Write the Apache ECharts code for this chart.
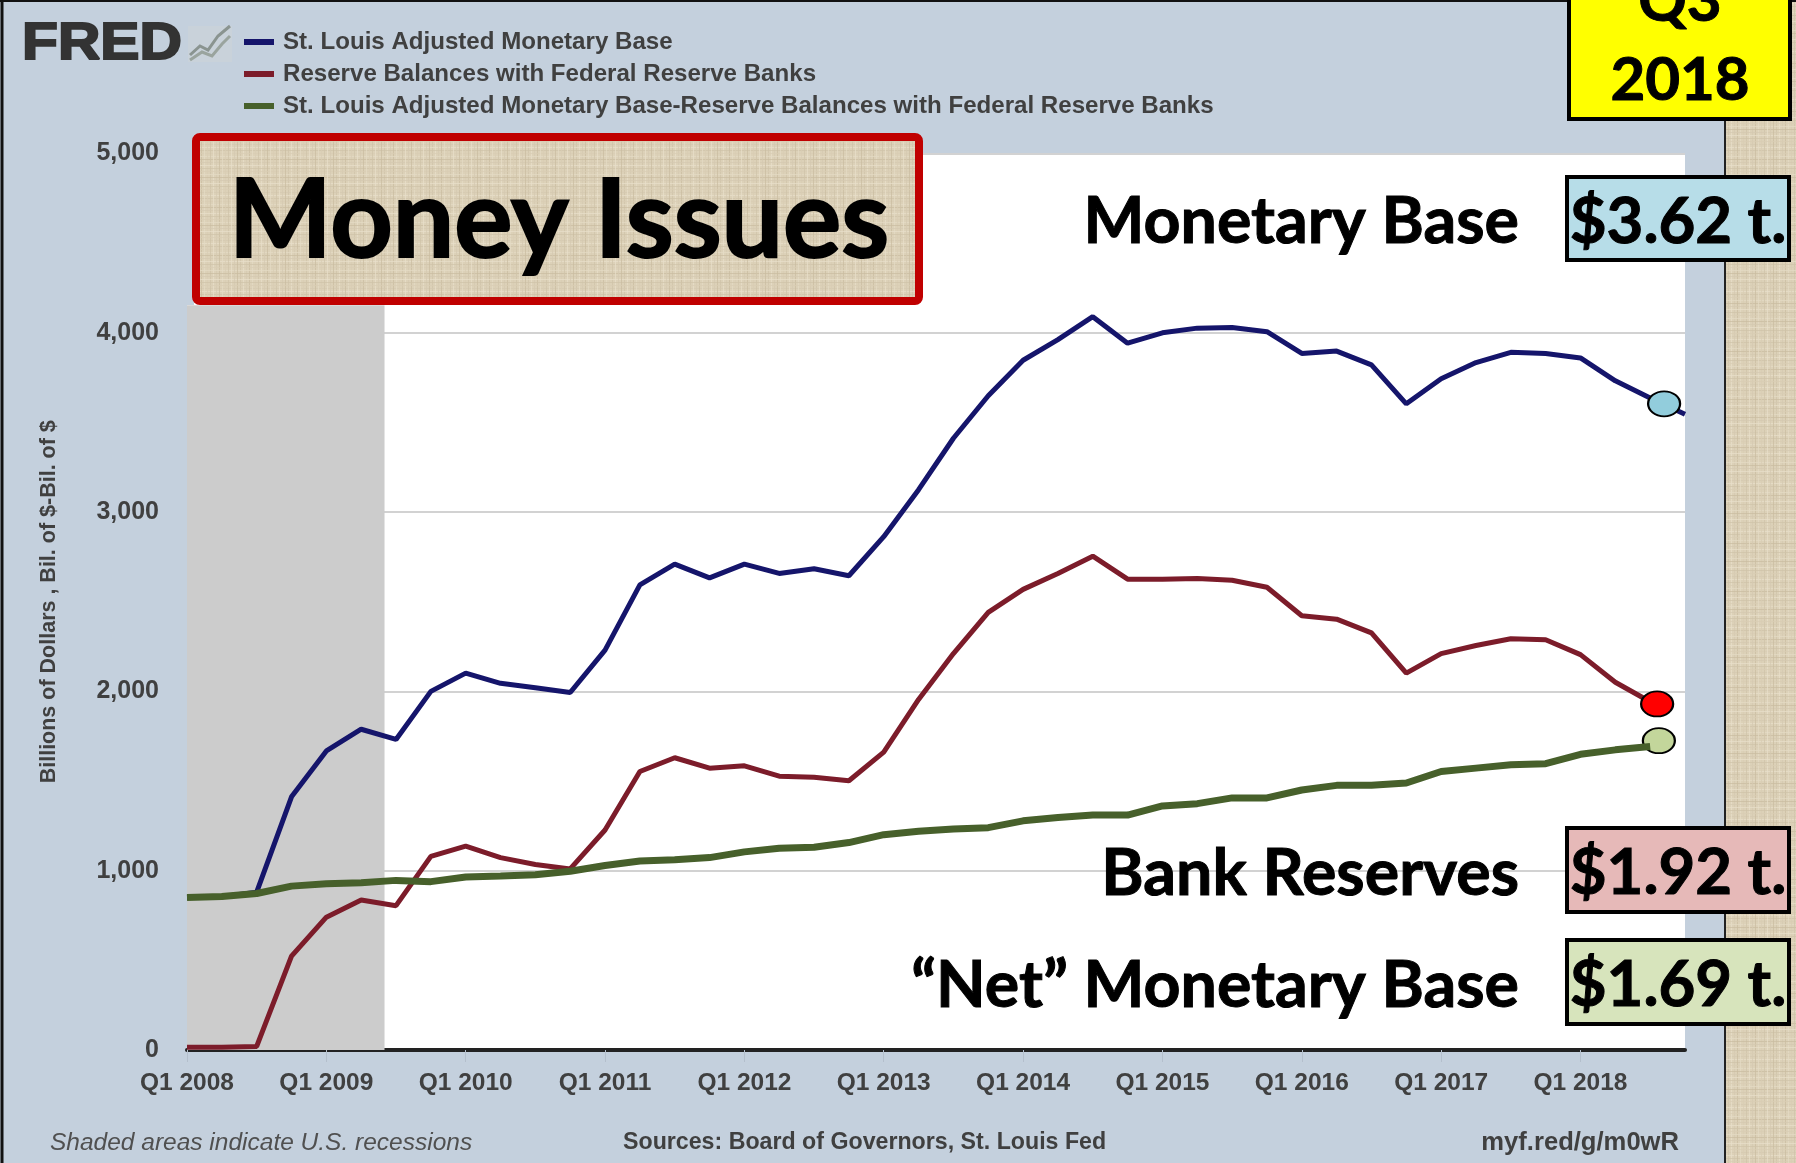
<!DOCTYPE html>
<html><head><meta charset="utf-8">
<style>html,body{margin:0;padding:0;background:#fff}#c{width:1796px;height:1163px}</style>
<script src="https://cdn.jsdelivr.net/npm/echarts@6/dist/echarts.min.js"></script>
</head><body><div id="c"></div>
<script>
const quarters = [];
for (let y = 2008; y <= 2018; y++) for (let q = 1; q <= 4; q++) quarters.push('Q' + q + ' ' + y);
const yTickLabels = ['0','1,000','2,000','3,000','4,000','5,000'];
const baseName = 'St. Louis Adjusted Monetary Base';
const reserveName = 'Reserve Balances with Federal Reserve Banks';
const netName = 'St. Louis Adjusted Monetary Base-Reserve Balances with Federal Reserve Banks';
const monetaryBase = [850,855,880,1412,1668,1789,1732,2000,2102,2045,2020,1994,2230,2594,2710,2633,2710,2658,2684,2645,2863,3125,3412,3649,3847,3962,4090,3942,4000,4026,4030,4006,3885,3898,3821,3604,3744,3834,3891,3885,3860,3732,3636,3546];
const reserves = [15,15,20,524,741,837,805,1080,1137,1073,1035,1010,1227,1553,1630,1572,1585,1527,1521,1502,1661,1955,2211,2441,2569,2658,2754,2626,2626,2630,2620,2581,2422,2403,2326,2102,2211,2256,2294,2288,2205,2051,1942];
const netBase = [850,856,873,914,927,933,946,939,965,971,978,997,1029,1054,1061,1073,1105,1125,1131,1157,1201,1220,1233,1240,1278,1297,1310,1310,1361,1374,1406,1406,1450,1476,1476,1489,1553,1572,1591,1597,1649,1674,1693];
const recessionSpan = [0, 5.67];
const recessionTop = 4153;
const dotBase = [42.4, 3604], dotReserves = [42.2, 1930], dotNet = [42.25, 1725];

const tex = document.createElement('canvas'); tex.width = tex.height = 48;
const g = tex.getContext('2d'); g.fillStyle = '#dcd1b8'; g.fillRect(0,0,48,48);
const shades = ['#cfc3a8','#e8dfcb','#d4c9b0','#c9bca0','#e4dbc5','#d8cdb4'];
for (let i = 0; i < 16; i++) {
  g.fillStyle = shades[i % 6]; g.globalAlpha = .7;
  g.fillRect(i*3, 0, 1, 48);
  g.fillStyle = shades[(i*5+2) % 6];
  g.fillRect(0, i*3, 48, 1);
}
g.globalAlpha = 1;
const burlap = {image: tex, repeat: 'repeat'};

const bigFont = 'bold 64.5px Lato, "Noto Sans", sans-serif';
const yearFont = 'bold 60px Lato, "Noto Sans", sans-serif';
const boxFont = 'bold 63.5px Lato, "Noto Sans", sans-serif';
const Z = 100;
function label(t, x, y, align, font, fill, sw) {
  return {type:'text', z:Z+2, style:{text:t, x, y, align:align, verticalAlign:'middle', font:font||bigFont, fill:fill||'#000',
    stroke:sw?(fill||'#000'):null, lineWidth:sw||0}};
}
function box(x, y, w, h, fill, lw, stroke, r) {
  return {type:'rect', z:Z+1, shape:{x, y, width:w, height:h, r:r||0}, style:{fill, stroke:stroke||'#000', lineWidth:lw||4}};
}
const dotSymbol = 'path://M0 50A50 50 0 1 1 100 50A50 50 0 1 1 0 50Z';
function dot(coord, color) {
  return {symbol:dotSymbol, symbolSize:[32,25], symbolKeepAspect:false, silent:true, animation:false, label:{show:false},
    itemStyle:{color, borderColor:'#000', borderWidth:2}, data:[{coord}]};
}
const chart = echarts.init(document.getElementById('c'), null, {renderer:'canvas'});
chart.setOption({
  animation:false,
  backgroundColor:'#c4d0dd',
  grid:{left:187, right:111, top:153.5, bottom:113, show:true, backgroundColor:'#fff', borderWidth:0},
  legend:{show:true, orient:'vertical', left:239, top:25, itemWidth:30, itemHeight:6, itemGap:8, icon:'rect',
    textStyle:{fontSize:24.1, fontWeight:'bold', fontFamily:'"Liberation Sans"', color:'#404040', lineHeight:24, padding:[0,0,0,4]},
    data:[baseName,reserveName,netName]},
  xAxis:{type:'value', min:0, max:43, interval:4, splitLine:{show:false},
    axisLine:{show:true, onZero:false, lineStyle:{color:'#222', width:4}},
    axisTick:{show:true, length:12, customValues:[0,4,8,12,16,20,24,28,32,36,40], lineStyle:{color:'#b4bfcc', width:1}},
    axisLabel:{customValues:[0,4,8,12,16,20,24,28,32,36,40], margin:21, fontSize:24.5, fontWeight:'bold', fontFamily:'"Liberation Sans"', color:'#404040',
      formatter:v => quarters[v]}},
  yAxis:{type:'value', min:0, max:5000, interval:1000,
    name:'Billions of Dollars , Bil. of $-Bil. of $', nameLocation:'middle', nameGap:127, nameRotate:90,
    nameTextStyle:{fontSize:21.5, fontWeight:'bold', fontFamily:'"Liberation Sans"', color:'#404040'},
    axisLine:{show:false}, axisTick:{show:false},
    splitLine:{show:true, lineStyle:{color:'#d2d2d2', width:2}},
    axisLabel:{margin:28, fontSize:25, fontWeight:'bold', fontFamily:'"Liberation Sans"', color:'#404040', padding:[7,0,0,0],
      formatter:v => yTickLabels[v/1000]}},
  series:[
    {name:baseName, type:'line', symbol:'none', smooth:false, lineStyle:{color:'#15156b', width:5}, itemStyle:{color:'#15156b'},
      data:monetaryBase.map((v,i)=>[i,v]),
      markArea:{silent:true, itemStyle:{color:'#cccccc', opacity:1},
        data:[[{xAxis:recessionSpan[0], yAxis:0},{xAxis:recessionSpan[1], yAxis:recessionTop}]]},
      markPoint:dot(dotBase,'#92cddc'), z:3},
    {name:reserveName, type:'line', symbol:'none', lineStyle:{color:'#7c1c2a', width:5}, itemStyle:{color:'#7c1c2a'},
      data:reserves.map((v,i)=>[i,v]), markPoint:dot(dotReserves,'#ff0000'), z:4},
    {name:netName, type:'line', symbol:'none', lineStyle:{color:'#47602b', width:7}, itemStyle:{color:'#47602b'},
      data:netBase.map((v,i)=>[i,v]), markPoint:dot(dotNet,'#c3d69b'), z:5}
  ],
  graphic:{z:100, elements:[
    {type:'rect', z:Z, shape:{x:1725, y:0, width:71, height:1163}, style:{fill:burlap}},
    {type:'line', z:Z, shape:{x1:1725,y1:0,x2:1725,y2:1163}, style:{stroke:'#222', lineWidth:2}},
    {type:'line', z:Z, shape:{x1:2,y1:0,x2:2,y2:1163}, style:{stroke:'#111', lineWidth:3}},
    {type:'line', z:Z, shape:{x1:0,y1:1,x2:1796,y2:1}, style:{stroke:'#111', lineWidth:2}},
    {type:'rect', z:Z, shape:{x:186,y:150,width:8,height:155}, style:{fill:'#c4d0dd'}},
    box(196,137,723,164,burlap,8,'#c00000',4),
    label('Money Issues',559,222,'center','bold 109px Lato, "Noto Sans", sans-serif','#000',2),
    box(1569,-8,221,127,'#ffff00',4),
    label('Q3',1680,2,'center',yearFont,'#000',1),
    label('2018',1680,81,'center',yearFont,'#000',1),
    label('Monetary Base',1519,222,'right',null,'#000',1),
    label('Bank Reserves',1519,874,'right',null,'#000',1),
    label('\u201cNet\u201d Monetary Base',1519,986,'right',null,'#000',1),
    box(1567,177,222,83,'#b7dde8',4),
    label('$3.62 t.',1678,223,'center',boxFont,'#000',1),
    box(1567,828,222,84,'#e6b9b8',4),
    label('$1.92 t.',1678,874,'center',boxFont,'#000',1),
    box(1567,940,222,84,'#d7e4bc',4),
    label('$1.69 t.',1678,986,'center',boxFont,'#000',1),
    Object.assign(label('FRED',22,45,'left','900 52px "Liberation Sans", sans-serif','#333',2),{originX:22, originY:45, scaleX:1.13}),
    {type:'rect', z:Z, shape:{x:188,y:26,width:44,height:36}, style:{fill:'#c9d2da'}},
    {type:'polyline', z:Z+1, shape:{points:[[190,55],[200,46],[208,50],[218,36],[230,26]]}, style:{stroke:'#8a9490', lineWidth:3, fill:'none'}},
    {type:'polyline', z:Z+1, shape:{points:[[190,60],[202,52],[212,56],[222,44],[230,36]]}, style:{stroke:'#9aa49e', lineWidth:3, fill:'none'}},
    label('Shaded areas indicate U.S. recessions',50,1143,'left','italic 24.5px "Liberation Sans", sans-serif','#505050'),
    label('Sources: Board of Governors, St. Louis Fed',623,1143,'left','bold 23.2px "Liberation Sans", sans-serif','#404040'),
    label('myf.red/g/m0wR',1679,1143,'right','bold 25.6px "Liberation Sans", sans-serif','#404040')
  ]}
});
</script></body></html>
